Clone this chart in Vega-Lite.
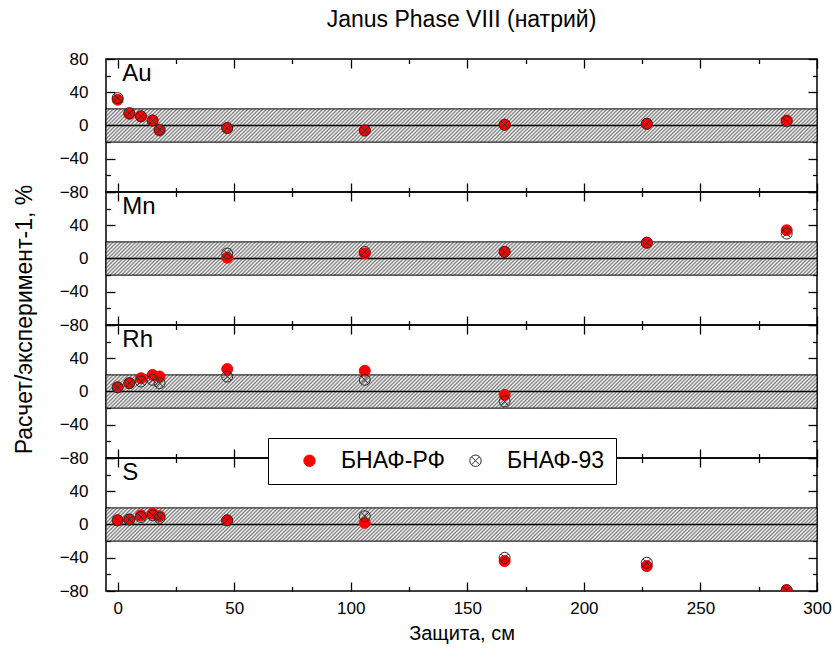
{
  "$schema": "https://vega.github.io/schema/vega-lite/v6.json",
  "padding": {"left": 12, "top": 8, "right": 5, "bottom": 5},
  "datasets": {
    "pts": [
      {"e": "Au", "s": "БНАФ-РФ", "x": 0, "v": 31},
      {"e": "Au", "s": "БНАФ-РФ", "x": 5, "v": 14},
      {"e": "Au", "s": "БНАФ-РФ", "x": 10, "v": 11},
      {"e": "Au", "s": "БНАФ-РФ", "x": 15, "v": 6},
      {"e": "Au", "s": "БНАФ-РФ", "x": 18, "v": -6},
      {"e": "Au", "s": "БНАФ-РФ", "x": 47, "v": -3},
      {"e": "Au", "s": "БНАФ-РФ", "x": 106, "v": -6},
      {"e": "Au", "s": "БНАФ-РФ", "x": 166, "v": 1},
      {"e": "Au", "s": "БНАФ-РФ", "x": 227, "v": 2},
      {"e": "Au", "s": "БНАФ-РФ", "x": 287, "v": 6},
      {"e": "Mn", "s": "БНАФ-РФ", "x": 47, "v": 1},
      {"e": "Mn", "s": "БНАФ-РФ", "x": 106, "v": 6},
      {"e": "Mn", "s": "БНАФ-РФ", "x": 166, "v": 8},
      {"e": "Mn", "s": "БНАФ-РФ", "x": 227, "v": 19},
      {"e": "Mn", "s": "БНАФ-РФ", "x": 287, "v": 34},
      {"e": "Rh", "s": "БНАФ-РФ", "x": 0, "v": 5},
      {"e": "Rh", "s": "БНАФ-РФ", "x": 5, "v": 10},
      {"e": "Rh", "s": "БНАФ-РФ", "x": 10, "v": 16},
      {"e": "Rh", "s": "БНАФ-РФ", "x": 15, "v": 20},
      {"e": "Rh", "s": "БНАФ-РФ", "x": 18, "v": 18},
      {"e": "Rh", "s": "БНАФ-РФ", "x": 47, "v": 27},
      {"e": "Rh", "s": "БНАФ-РФ", "x": 106, "v": 25},
      {"e": "Rh", "s": "БНАФ-РФ", "x": 166, "v": -4},
      {"e": "S", "s": "БНАФ-РФ", "x": 0, "v": 5},
      {"e": "S", "s": "БНАФ-РФ", "x": 5, "v": 6},
      {"e": "S", "s": "БНАФ-РФ", "x": 10, "v": 11},
      {"e": "S", "s": "БНАФ-РФ", "x": 15, "v": 13},
      {"e": "S", "s": "БНАФ-РФ", "x": 18, "v": 10},
      {"e": "S", "s": "БНАФ-РФ", "x": 47, "v": 5},
      {"e": "S", "s": "БНАФ-РФ", "x": 106, "v": 2},
      {"e": "S", "s": "БНАФ-РФ", "x": 166, "v": -44},
      {"e": "S", "s": "БНАФ-РФ", "x": 227, "v": -50},
      {"e": "S", "s": "БНАФ-РФ", "x": 287, "v": -79},
      {"e": "Au", "s": "БНАФ-93", "x": 0, "v": 33},
      {"e": "Au", "s": "БНАФ-93", "x": 5, "v": 15},
      {"e": "Au", "s": "БНАФ-93", "x": 10, "v": 11},
      {"e": "Au", "s": "БНАФ-93", "x": 15, "v": 6},
      {"e": "Au", "s": "БНАФ-93", "x": 18, "v": -5},
      {"e": "Au", "s": "БНАФ-93", "x": 47, "v": -3},
      {"e": "Au", "s": "БНАФ-93", "x": 106, "v": -6},
      {"e": "Au", "s": "БНАФ-93", "x": 166, "v": 1},
      {"e": "Au", "s": "БНАФ-93", "x": 227, "v": 2},
      {"e": "Au", "s": "БНАФ-93", "x": 287, "v": 5},
      {"e": "Mn", "s": "БНАФ-93", "x": 47, "v": 6},
      {"e": "Mn", "s": "БНАФ-93", "x": 106, "v": 8},
      {"e": "Mn", "s": "БНАФ-93", "x": 166, "v": 8},
      {"e": "Mn", "s": "БНАФ-93", "x": 227, "v": 19},
      {"e": "Mn", "s": "БНАФ-93", "x": 287, "v": 30},
      {"e": "Rh", "s": "БНАФ-93", "x": 0, "v": 5},
      {"e": "Rh", "s": "БНАФ-93", "x": 5, "v": 10},
      {"e": "Rh", "s": "БНАФ-93", "x": 10, "v": 12},
      {"e": "Rh", "s": "БНАФ-93", "x": 15, "v": 14},
      {"e": "Rh", "s": "БНАФ-93", "x": 18, "v": 10},
      {"e": "Rh", "s": "БНАФ-93", "x": 47, "v": 18},
      {"e": "Rh", "s": "БНАФ-93", "x": 106, "v": 14},
      {"e": "Rh", "s": "БНАФ-93", "x": 166, "v": -12},
      {"e": "S", "s": "БНАФ-93", "x": 0, "v": 5},
      {"e": "S", "s": "БНАФ-93", "x": 5, "v": 6},
      {"e": "S", "s": "БНАФ-93", "x": 10, "v": 9},
      {"e": "S", "s": "БНАФ-93", "x": 15, "v": 11},
      {"e": "S", "s": "БНАФ-93", "x": 18, "v": 8},
      {"e": "S", "s": "БНАФ-93", "x": 47, "v": 5},
      {"e": "S", "s": "БНАФ-93", "x": 106, "v": 10},
      {"e": "S", "s": "БНАФ-93", "x": 166, "v": -40},
      {"e": "S", "s": "БНАФ-93", "x": 227, "v": -46},
      {"e": "S", "s": "БНАФ-93", "x": 287, "v": -79}
    ],
    "band": [{"lo": -20, "hi": 20}]
  },
  "spacing": 0,
  "bounds": "flush",
  "vconcat": [
    {
      "width": 711, "height": 133,
      "title": {"text": "Janus Phase VIII (натрий)", "frame": "group", "anchor": "middle", "fontSize": 23, "fontWeight": "normal", "font": "Liberation Sans", "color": "#000", "offset": 18},
      "layer": [
        {"data": {"name": "band"}, "mark": {"type": "rect", "style": "hatch", "stroke": "#000", "strokeWidth": 1},
         "encoding": {"y": {"field": "lo", "type": "quantitative", "scale": {"domain": [-80, 80], "nice": false}, "axis": null}, "y2": {"field": "hi"}}},
        {"data": {"name": "band"}, "mark": {"type": "rule", "color": "#000", "strokeWidth": 1.5},
         "encoding": {"y": {"datum": 0, "type": "quantitative", "axis": null}}},
        {"data": {"name": "pts"}, "transform": [{"filter": "datum.e === 'Au'"}],
         "mark": {"type": "point", "size": 120, "opacity": 1, "strokeWidth": 1, "clip": true},
         "encoding": {
           "x": {"field": "x", "type": "quantitative", "scale": {"domain": [-5, 300], "nice": false, "zero": false},
                 "axis": {"orient": "bottom", "values": [0,25,50,75,100,125,150,175,200,225,250,275,300], "labels": false, "title": null, "tickSize": {"condition": {"test": "datum.value % 50 === 0", "value": -9}, "value": -4.5}}},
           "y": {"field": "v", "type": "quantitative", "scale": {"domain": [-80, 80], "nice": false},
                 "axis": {"orient": "left", "values": [-80,-60,-40,-20,0,20,40,60,80], "title": null, "labelExpr": "datum.value % 40 === 0 ? datum.label : ''", "labelPadding": 27, "tickSize": {"condition": {"test": "datum.value % 40 === 0", "value": -9}, "value": -4.5}}},
           "shape": {"field": "s", "type": "nominal", "scale": {"domain": ["БНАФ-РФ", "БНАФ-93"], "range": ["circle", "M-1,0A1,1,0,1,1,1,0A1,1,0,1,1,-1,0ZM-0.7,-0.7L0.7,0.7M-0.7,0.7L0.7,-0.7"]}},
           "fill": {"field": "s", "type": "nominal", "scale": {"domain": ["БНАФ-РФ", "БНАФ-93"], "range": ["#ff0000", "transparent"]}},
           "stroke": {"field": "s", "type": "nominal", "scale": {"domain": ["БНАФ-РФ", "БНАФ-93"], "range": ["#ff0000", "#2a2a2a"]}}
         }},
        {"data": {"values": [{"el": "Au"}]}, "mark": {"type": "text", "align": "left", "baseline": "middle", "fontSize": 24, "font": "Liberation Sans", "color": "#000"},
         "encoding": {"text": {"field": "el"},
           "x": {"datum": 2, "type": "quantitative", "axis": {"orient": "top", "values": [0,25,50,75,100,125,150,175,200,225,250,275,300], "labels": false, "title": null, "tickSize": {"condition": {"test": "datum.value % 50 === 0", "value": -9}, "value": -4.5}}},
           "y": {"datum": 62, "type": "quantitative", "axis": {"orient": "right", "values": [-80,-60,-40,-20,0,20,40,60,80], "labels": false, "title": null, "tickSize": {"condition": {"test": "datum.value % 40 === 0", "value": -9}, "value": -4.5}}}}}
      ],
      "resolve": {"axis": {"x": "independent", "y": "independent"}}
    },
    {
      "width": 711, "height": 133,
      "layer": [
        {"data": {"name": "band"}, "mark": {"type": "rect", "style": "hatch", "stroke": "#000", "strokeWidth": 1},
         "encoding": {"y": {"field": "lo", "type": "quantitative", "scale": {"domain": [-80, 80], "nice": false}, "axis": null}, "y2": {"field": "hi"}}},
        {"data": {"name": "band"}, "mark": {"type": "rule", "color": "#000", "strokeWidth": 1.5},
         "encoding": {"y": {"datum": 0, "type": "quantitative", "axis": null}}},
        {"data": {"name": "pts"}, "transform": [{"filter": "datum.e === 'Mn'"}],
         "mark": {"type": "point", "size": 120, "opacity": 1, "strokeWidth": 1, "clip": true},
         "encoding": {
           "x": {"field": "x", "type": "quantitative", "scale": {"domain": [-5, 300], "nice": false, "zero": false},
                 "axis": {"orient": "bottom", "values": [0,25,50,75,100,125,150,175,200,225,250,275,300], "labels": false, "title": null, "tickSize": {"condition": {"test": "datum.value % 50 === 0", "value": -9}, "value": -4.5}}},
           "y": {"field": "v", "type": "quantitative", "scale": {"domain": [-80, 80], "nice": false},
                 "axis": {"orient": "left", "values": [-80,-60,-40,-20,0,20,40,60,80], "title": "Расчет/эксперимент-1, %", "titleFontSize": 23, "titleX": -82, "titleY": 127, "titleBaseline": "middle", "labelExpr": "datum.value % 40 === 0 && datum.value < 80 ? datum.label : ''", "labelPadding": 27, "tickSize": {"condition": {"test": "datum.value % 40 === 0", "value": -9}, "value": -4.5}}},
           "shape": {"field": "s", "type": "nominal", "scale": {"domain": ["БНАФ-РФ", "БНАФ-93"], "range": ["circle", "M-1,0A1,1,0,1,1,1,0A1,1,0,1,1,-1,0ZM-0.7,-0.7L0.7,0.7M-0.7,0.7L0.7,-0.7"]}},
           "fill": {"field": "s", "type": "nominal", "scale": {"domain": ["БНАФ-РФ", "БНАФ-93"], "range": ["#ff0000", "transparent"]}},
           "stroke": {"field": "s", "type": "nominal", "scale": {"domain": ["БНАФ-РФ", "БНАФ-93"], "range": ["#ff0000", "#2a2a2a"]}}
         }},
        {"data": {"values": [{"el": "Mn"}]}, "mark": {"type": "text", "align": "left", "baseline": "middle", "fontSize": 24, "font": "Liberation Sans", "color": "#000"},
         "encoding": {"text": {"field": "el"},
           "x": {"datum": 2, "type": "quantitative", "axis": {"orient": "top", "values": [0,25,50,75,100,125,150,175,200,225,250,275,300], "labels": false, "title": null, "tickSize": {"condition": {"test": "datum.value % 50 === 0", "value": -9}, "value": -4.5}}},
           "y": {"datum": 62, "type": "quantitative", "axis": {"orient": "right", "values": [-80,-60,-40,-20,0,20,40,60,80], "labels": false, "title": null, "tickSize": {"condition": {"test": "datum.value % 40 === 0", "value": -9}, "value": -4.5}}}}}
      ],
      "resolve": {"axis": {"x": "independent", "y": "independent"}}
    },
    {
      "width": 711, "height": 133,
      "layer": [
        {"data": {"name": "band"}, "mark": {"type": "rect", "style": "hatch", "stroke": "#000", "strokeWidth": 1},
         "encoding": {"y": {"field": "lo", "type": "quantitative", "scale": {"domain": [-80, 80], "nice": false}, "axis": null}, "y2": {"field": "hi"}}},
        {"data": {"name": "band"}, "mark": {"type": "rule", "color": "#000", "strokeWidth": 1.5},
         "encoding": {"y": {"datum": 0, "type": "quantitative", "axis": null}}},
        {"data": {"name": "pts"}, "transform": [{"filter": "datum.e === 'Rh'"}],
         "mark": {"type": "point", "size": 120, "opacity": 1, "strokeWidth": 1, "clip": true},
         "encoding": {
           "x": {"field": "x", "type": "quantitative", "scale": {"domain": [-5, 300], "nice": false, "zero": false},
                 "axis": {"orient": "bottom", "values": [0,25,50,75,100,125,150,175,200,225,250,275,300], "labels": false, "title": null, "tickSize": {"condition": {"test": "datum.value % 50 === 0", "value": -9}, "value": -4.5}}},
           "y": {"field": "v", "type": "quantitative", "scale": {"domain": [-80, 80], "nice": false},
                 "axis": {"orient": "left", "values": [-80,-60,-40,-20,0,20,40,60,80], "title": null, "labelExpr": "datum.value % 40 === 0 && datum.value < 80 ? datum.label : ''", "labelPadding": 27, "tickSize": {"condition": {"test": "datum.value % 40 === 0", "value": -9}, "value": -4.5}}},
           "shape": {"field": "s", "type": "nominal", "scale": {"domain": ["БНАФ-РФ", "БНАФ-93"], "range": ["circle", "M-1,0A1,1,0,1,1,1,0A1,1,0,1,1,-1,0ZM-0.7,-0.7L0.7,0.7M-0.7,0.7L0.7,-0.7"]}},
           "fill": {"field": "s", "type": "nominal", "scale": {"domain": ["БНАФ-РФ", "БНАФ-93"], "range": ["#ff0000", "transparent"]}},
           "stroke": {"field": "s", "type": "nominal", "scale": {"domain": ["БНАФ-РФ", "БНАФ-93"], "range": ["#ff0000", "#2a2a2a"]}}
         }},
        {"data": {"values": [{"el": "Rh"}]}, "mark": {"type": "text", "align": "left", "baseline": "middle", "fontSize": 24, "font": "Liberation Sans", "color": "#000"},
         "encoding": {"text": {"field": "el"},
           "x": {"datum": 2, "type": "quantitative", "axis": {"orient": "top", "values": [0,25,50,75,100,125,150,175,200,225,250,275,300], "labels": false, "title": null, "tickSize": {"condition": {"test": "datum.value % 50 === 0", "value": -9}, "value": -4.5}}},
           "y": {"datum": 62, "type": "quantitative", "axis": {"orient": "right", "values": [-80,-60,-40,-20,0,20,40,60,80], "labels": false, "title": null, "tickSize": {"condition": {"test": "datum.value % 40 === 0", "value": -9}, "value": -4.5}}}}}
      ],
      "resolve": {"axis": {"x": "independent", "y": "independent"}}
    },
    {
      "width": 711, "height": 133,
      "layer": [
        {"data": {"name": "band"}, "mark": {"type": "rect", "style": "hatch", "stroke": "#000", "strokeWidth": 1},
         "encoding": {"y": {"field": "lo", "type": "quantitative", "scale": {"domain": [-80, 80], "nice": false}, "axis": null}, "y2": {"field": "hi"}}},
        {"data": {"name": "band"}, "mark": {"type": "rule", "color": "#000", "strokeWidth": 1.5},
         "encoding": {"y": {"datum": 0, "type": "quantitative", "axis": null}}},
        {"data": {"name": "pts"}, "transform": [{"filter": "datum.e === 'S'"}],
         "mark": {"type": "point", "size": 120, "opacity": 1, "strokeWidth": 1, "clip": true},
         "encoding": {
           "x": {"field": "x", "type": "quantitative", "scale": {"domain": [-5, 300], "nice": false, "zero": false},
                 "axis": {"orient": "bottom", "values": [0,25,50,75,100,125,150,175,200,225,250,275,300], "title": "Защита, см", "titleFontSize": 20, "titlePadding": 3, "labelExpr": "datum.value % 50 === 0 ? datum.label : ''", "labelPadding": 18, "tickSize": {"condition": {"test": "datum.value % 50 === 0", "value": -9}, "value": -4.5}}},
           "y": {"field": "v", "type": "quantitative", "scale": {"domain": [-80, 80], "nice": false},
                 "axis": {"orient": "left", "values": [-80,-60,-40,-20,0,20,40,60,80], "title": null, "labelExpr": "datum.value % 40 === 0 && datum.value < 80 ? datum.label : ''", "labelPadding": 27, "tickSize": {"condition": {"test": "datum.value % 40 === 0", "value": -9}, "value": -4.5}}},
           "shape": {"field": "s", "type": "nominal", "scale": {"domain": ["БНАФ-РФ", "БНАФ-93"], "range": ["circle", "M-1,0A1,1,0,1,1,1,0A1,1,0,1,1,-1,0ZM-0.7,-0.7L0.7,0.7M-0.7,0.7L0.7,-0.7"]}},
           "fill": {"field": "s", "type": "nominal", "scale": {"domain": ["БНАФ-РФ", "БНАФ-93"], "range": ["#ff0000", "transparent"]}},
           "stroke": {"field": "s", "type": "nominal", "scale": {"domain": ["БНАФ-РФ", "БНАФ-93"], "range": ["#ff0000", "#2a2a2a"]}}
         }},
        {"data": {"values": [{"el": "S"}]}, "mark": {"type": "text", "align": "left", "baseline": "middle", "fontSize": 24, "font": "Liberation Sans", "color": "#000"},
         "encoding": {"text": {"field": "el"},
           "x": {"datum": 2, "type": "quantitative", "axis": {"orient": "top", "values": [0,25,50,75,100,125,150,175,200,225,250,275,300], "labels": false, "title": null, "tickSize": {"condition": {"test": "datum.value % 50 === 0", "value": -9}, "value": -4.5}}},
           "y": {"datum": 62, "type": "quantitative", "axis": {"orient": "right", "values": [-80,-60,-40,-20,0,20,40,60,80], "labels": false, "title": null, "tickSize": {"condition": {"test": "datum.value % 40 === 0", "value": -9}, "value": -4.5}}}}}
      ],
      "resolve": {"axis": {"x": "independent", "y": "independent"}}
    }
  ],
  "config": {
    "font": "Liberation Sans",
    "view": {"stroke": "#000", "strokeWidth": 1.5},
    "axis": {"domain": false, "grid": false, "ticks": true, "tickColor": "#000", "tickWidth": 1.3, "labelFont": "Liberation Sans", "labelFontSize": 17, "labelColor": "#000", "labelFlush": false, "labelOverlap": false, "titleFont": "Liberation Sans", "titleFontSize": 21, "titleFontWeight": "normal", "titleColor": "#000"},
    "legend": {"orient": "none", "legendX": 162, "legendY": 379, "direction": "horizontal", "title": null, "labelFont": "Liberation Sans", "labelFontSize": 23, "labelColor": "#000", "symbolSize": 130, "symbolStrokeWidth": 1, "strokeColor": "#000", "fillColor": "#fff", "padding": 11, "symbolOffset": 19, "labelOffset": 20, "columnPadding": 0},
    "style": {
      "hatch": {
        "color": {"gradient": "linear", "x1": 0, "y1": 0, "x2": 1.05, "y2": 0.0491, "stops": [
{"offset":0.00,"color":"#777"},{"offset":0.0025,"color":"#fff"},{"offset":0.005,"color":"#777"},{"offset":0.0075,"color":"#fff"},
{"offset":0.01,"color":"#777"},{"offset":0.0125,"color":"#fff"},{"offset":0.015,"color":"#777"},{"offset":0.0175,"color":"#fff"},
{"offset":0.02,"color":"#777"},{"offset":0.0225,"color":"#fff"},{"offset":0.025,"color":"#777"},{"offset":0.0275,"color":"#fff"},
{"offset":0.03,"color":"#777"},{"offset":0.0325,"color":"#fff"},{"offset":0.035,"color":"#777"},{"offset":0.0375,"color":"#fff"},
{"offset":0.04,"color":"#777"},{"offset":0.0425,"color":"#fff"},{"offset":0.045,"color":"#777"},{"offset":0.0475,"color":"#fff"},
{"offset":0.05,"color":"#777"},{"offset":0.0525,"color":"#fff"},{"offset":0.055,"color":"#777"},{"offset":0.0575,"color":"#fff"},
{"offset":0.06,"color":"#777"},{"offset":0.0625,"color":"#fff"},{"offset":0.065,"color":"#777"},{"offset":0.0675,"color":"#fff"},
{"offset":0.07,"color":"#777"},{"offset":0.0725,"color":"#fff"},{"offset":0.075,"color":"#777"},{"offset":0.0775,"color":"#fff"},
{"offset":0.08,"color":"#777"},{"offset":0.0825,"color":"#fff"},{"offset":0.085,"color":"#777"},{"offset":0.0875,"color":"#fff"},
{"offset":0.09,"color":"#777"},{"offset":0.0925,"color":"#fff"},{"offset":0.095,"color":"#777"},{"offset":0.0975,"color":"#fff"},
{"offset":0.10,"color":"#777"},{"offset":0.1025,"color":"#fff"},{"offset":0.105,"color":"#777"},{"offset":0.1075,"color":"#fff"},
{"offset":0.11,"color":"#777"},{"offset":0.1125,"color":"#fff"},{"offset":0.115,"color":"#777"},{"offset":0.1175,"color":"#fff"},
{"offset":0.12,"color":"#777"},{"offset":0.1225,"color":"#fff"},{"offset":0.125,"color":"#777"},{"offset":0.1275,"color":"#fff"},
{"offset":0.13,"color":"#777"},{"offset":0.1325,"color":"#fff"},{"offset":0.135,"color":"#777"},{"offset":0.1375,"color":"#fff"},
{"offset":0.14,"color":"#777"},{"offset":0.1425,"color":"#fff"},{"offset":0.145,"color":"#777"},{"offset":0.1475,"color":"#fff"},
{"offset":0.15,"color":"#777"},{"offset":0.1525,"color":"#fff"},{"offset":0.155,"color":"#777"},{"offset":0.1575,"color":"#fff"},
{"offset":0.16,"color":"#777"},{"offset":0.1625,"color":"#fff"},{"offset":0.165,"color":"#777"},{"offset":0.1675,"color":"#fff"},
{"offset":0.17,"color":"#777"},{"offset":0.1725,"color":"#fff"},{"offset":0.175,"color":"#777"},{"offset":0.1775,"color":"#fff"},
{"offset":0.18,"color":"#777"},{"offset":0.1825,"color":"#fff"},{"offset":0.185,"color":"#777"},{"offset":0.1875,"color":"#fff"},
{"offset":0.19,"color":"#777"},{"offset":0.1925,"color":"#fff"},{"offset":0.195,"color":"#777"},{"offset":0.1975,"color":"#fff"},
{"offset":0.20,"color":"#777"},{"offset":0.2025,"color":"#fff"},{"offset":0.205,"color":"#777"},{"offset":0.2075,"color":"#fff"},
{"offset":0.21,"color":"#777"},{"offset":0.2125,"color":"#fff"},{"offset":0.215,"color":"#777"},{"offset":0.2175,"color":"#fff"},
{"offset":0.22,"color":"#777"},{"offset":0.2225,"color":"#fff"},{"offset":0.225,"color":"#777"},{"offset":0.2275,"color":"#fff"},
{"offset":0.23,"color":"#777"},{"offset":0.2325,"color":"#fff"},{"offset":0.235,"color":"#777"},{"offset":0.2375,"color":"#fff"},
{"offset":0.24,"color":"#777"},{"offset":0.2425,"color":"#fff"},{"offset":0.245,"color":"#777"},{"offset":0.2475,"color":"#fff"},
{"offset":0.25,"color":"#777"},{"offset":0.2525,"color":"#fff"},{"offset":0.255,"color":"#777"},{"offset":0.2575,"color":"#fff"},
{"offset":0.26,"color":"#777"},{"offset":0.2625,"color":"#fff"},{"offset":0.265,"color":"#777"},{"offset":0.2675,"color":"#fff"},
{"offset":0.27,"color":"#777"},{"offset":0.2725,"color":"#fff"},{"offset":0.275,"color":"#777"},{"offset":0.2775,"color":"#fff"},
{"offset":0.28,"color":"#777"},{"offset":0.2825,"color":"#fff"},{"offset":0.285,"color":"#777"},{"offset":0.2875,"color":"#fff"},
{"offset":0.29,"color":"#777"},{"offset":0.2925,"color":"#fff"},{"offset":0.295,"color":"#777"},{"offset":0.2975,"color":"#fff"},
{"offset":0.30,"color":"#777"},{"offset":0.3025,"color":"#fff"},{"offset":0.305,"color":"#777"},{"offset":0.3075,"color":"#fff"},
{"offset":0.31,"color":"#777"},{"offset":0.3125,"color":"#fff"},{"offset":0.315,"color":"#777"},{"offset":0.3175,"color":"#fff"},
{"offset":0.32,"color":"#777"},{"offset":0.3225,"color":"#fff"},{"offset":0.325,"color":"#777"},{"offset":0.3275,"color":"#fff"},
{"offset":0.33,"color":"#777"},{"offset":0.3325,"color":"#fff"},{"offset":0.335,"color":"#777"},{"offset":0.3375,"color":"#fff"},
{"offset":0.34,"color":"#777"},{"offset":0.3425,"color":"#fff"},{"offset":0.345,"color":"#777"},{"offset":0.3475,"color":"#fff"},
{"offset":0.35,"color":"#777"},{"offset":0.3525,"color":"#fff"},{"offset":0.355,"color":"#777"},{"offset":0.3575,"color":"#fff"},
{"offset":0.36,"color":"#777"},{"offset":0.3625,"color":"#fff"},{"offset":0.365,"color":"#777"},{"offset":0.3675,"color":"#fff"},
{"offset":0.37,"color":"#777"},{"offset":0.3725,"color":"#fff"},{"offset":0.375,"color":"#777"},{"offset":0.3775,"color":"#fff"},
{"offset":0.38,"color":"#777"},{"offset":0.3825,"color":"#fff"},{"offset":0.385,"color":"#777"},{"offset":0.3875,"color":"#fff"},
{"offset":0.39,"color":"#777"},{"offset":0.3925,"color":"#fff"},{"offset":0.395,"color":"#777"},{"offset":0.3975,"color":"#fff"},
{"offset":0.40,"color":"#777"},{"offset":0.4025,"color":"#fff"},{"offset":0.405,"color":"#777"},{"offset":0.4075,"color":"#fff"},
{"offset":0.41,"color":"#777"},{"offset":0.4125,"color":"#fff"},{"offset":0.415,"color":"#777"},{"offset":0.4175,"color":"#fff"},
{"offset":0.42,"color":"#777"},{"offset":0.4225,"color":"#fff"},{"offset":0.425,"color":"#777"},{"offset":0.4275,"color":"#fff"},
{"offset":0.43,"color":"#777"},{"offset":0.4325,"color":"#fff"},{"offset":0.435,"color":"#777"},{"offset":0.4375,"color":"#fff"},
{"offset":0.44,"color":"#777"},{"offset":0.4425,"color":"#fff"},{"offset":0.445,"color":"#777"},{"offset":0.4475,"color":"#fff"},
{"offset":0.45,"color":"#777"},{"offset":0.4525,"color":"#fff"},{"offset":0.455,"color":"#777"},{"offset":0.4575,"color":"#fff"},
{"offset":0.46,"color":"#777"},{"offset":0.4625,"color":"#fff"},{"offset":0.465,"color":"#777"},{"offset":0.4675,"color":"#fff"},
{"offset":0.47,"color":"#777"},{"offset":0.4725,"color":"#fff"},{"offset":0.475,"color":"#777"},{"offset":0.4775,"color":"#fff"},
{"offset":0.48,"color":"#777"},{"offset":0.4825,"color":"#fff"},{"offset":0.485,"color":"#777"},{"offset":0.4875,"color":"#fff"},
{"offset":0.49,"color":"#777"},{"offset":0.4925,"color":"#fff"},{"offset":0.495,"color":"#777"},{"offset":0.4975,"color":"#fff"},
{"offset":0.50,"color":"#777"},{"offset":0.5025,"color":"#fff"},{"offset":0.505,"color":"#777"},{"offset":0.5075,"color":"#fff"},
{"offset":0.51,"color":"#777"},{"offset":0.5125,"color":"#fff"},{"offset":0.515,"color":"#777"},{"offset":0.5175,"color":"#fff"},
{"offset":0.52,"color":"#777"},{"offset":0.5225,"color":"#fff"},{"offset":0.525,"color":"#777"},{"offset":0.5275,"color":"#fff"},
{"offset":0.53,"color":"#777"},{"offset":0.5325,"color":"#fff"},{"offset":0.535,"color":"#777"},{"offset":0.5375,"color":"#fff"},
{"offset":0.54,"color":"#777"},{"offset":0.5425,"color":"#fff"},{"offset":0.545,"color":"#777"},{"offset":0.5475,"color":"#fff"},
{"offset":0.55,"color":"#777"},{"offset":0.5525,"color":"#fff"},{"offset":0.555,"color":"#777"},{"offset":0.5575,"color":"#fff"},
{"offset":0.56,"color":"#777"},{"offset":0.5625,"color":"#fff"},{"offset":0.565,"color":"#777"},{"offset":0.5675,"color":"#fff"},
{"offset":0.57,"color":"#777"},{"offset":0.5725,"color":"#fff"},{"offset":0.575,"color":"#777"},{"offset":0.5775,"color":"#fff"},
{"offset":0.58,"color":"#777"},{"offset":0.5825,"color":"#fff"},{"offset":0.585,"color":"#777"},{"offset":0.5875,"color":"#fff"},
{"offset":0.59,"color":"#777"},{"offset":0.5925,"color":"#fff"},{"offset":0.595,"color":"#777"},{"offset":0.5975,"color":"#fff"},
{"offset":0.60,"color":"#777"},{"offset":0.6025,"color":"#fff"},{"offset":0.605,"color":"#777"},{"offset":0.6075,"color":"#fff"},
{"offset":0.61,"color":"#777"},{"offset":0.6125,"color":"#fff"},{"offset":0.615,"color":"#777"},{"offset":0.6175,"color":"#fff"},
{"offset":0.62,"color":"#777"},{"offset":0.6225,"color":"#fff"},{"offset":0.625,"color":"#777"},{"offset":0.6275,"color":"#fff"},
{"offset":0.63,"color":"#777"},{"offset":0.6325,"color":"#fff"},{"offset":0.635,"color":"#777"},{"offset":0.6375,"color":"#fff"},
{"offset":0.64,"color":"#777"},{"offset":0.6425,"color":"#fff"},{"offset":0.645,"color":"#777"},{"offset":0.6475,"color":"#fff"},
{"offset":0.65,"color":"#777"},{"offset":0.6525,"color":"#fff"},{"offset":0.655,"color":"#777"},{"offset":0.6575,"color":"#fff"},
{"offset":0.66,"color":"#777"},{"offset":0.6625,"color":"#fff"},{"offset":0.665,"color":"#777"},{"offset":0.6675,"color":"#fff"},
{"offset":0.67,"color":"#777"},{"offset":0.6725,"color":"#fff"},{"offset":0.675,"color":"#777"},{"offset":0.6775,"color":"#fff"},
{"offset":0.68,"color":"#777"},{"offset":0.6825,"color":"#fff"},{"offset":0.685,"color":"#777"},{"offset":0.6875,"color":"#fff"},
{"offset":0.69,"color":"#777"},{"offset":0.6925,"color":"#fff"},{"offset":0.695,"color":"#777"},{"offset":0.6975,"color":"#fff"},
{"offset":0.70,"color":"#777"},{"offset":0.7025,"color":"#fff"},{"offset":0.705,"color":"#777"},{"offset":0.7075,"color":"#fff"},
{"offset":0.71,"color":"#777"},{"offset":0.7125,"color":"#fff"},{"offset":0.715,"color":"#777"},{"offset":0.7175,"color":"#fff"},
{"offset":0.72,"color":"#777"},{"offset":0.7225,"color":"#fff"},{"offset":0.725,"color":"#777"},{"offset":0.7275,"color":"#fff"},
{"offset":0.73,"color":"#777"},{"offset":0.7325,"color":"#fff"},{"offset":0.735,"color":"#777"},{"offset":0.7375,"color":"#fff"},
{"offset":0.74,"color":"#777"},{"offset":0.7425,"color":"#fff"},{"offset":0.745,"color":"#777"},{"offset":0.7475,"color":"#fff"},
{"offset":0.75,"color":"#777"},{"offset":0.7525,"color":"#fff"},{"offset":0.755,"color":"#777"},{"offset":0.7575,"color":"#fff"},
{"offset":0.76,"color":"#777"},{"offset":0.7625,"color":"#fff"},{"offset":0.765,"color":"#777"},{"offset":0.7675,"color":"#fff"},
{"offset":0.77,"color":"#777"},{"offset":0.7725,"color":"#fff"},{"offset":0.775,"color":"#777"},{"offset":0.7775,"color":"#fff"},
{"offset":0.78,"color":"#777"},{"offset":0.7825,"color":"#fff"},{"offset":0.785,"color":"#777"},{"offset":0.7875,"color":"#fff"},
{"offset":0.79,"color":"#777"},{"offset":0.7925,"color":"#fff"},{"offset":0.795,"color":"#777"},{"offset":0.7975,"color":"#fff"},
{"offset":0.80,"color":"#777"},{"offset":0.8025,"color":"#fff"},{"offset":0.805,"color":"#777"},{"offset":0.8075,"color":"#fff"},
{"offset":0.81,"color":"#777"},{"offset":0.8125,"color":"#fff"},{"offset":0.815,"color":"#777"},{"offset":0.8175,"color":"#fff"},
{"offset":0.82,"color":"#777"},{"offset":0.8225,"color":"#fff"},{"offset":0.825,"color":"#777"},{"offset":0.8275,"color":"#fff"},
{"offset":0.83,"color":"#777"},{"offset":0.8325,"color":"#fff"},{"offset":0.835,"color":"#777"},{"offset":0.8375,"color":"#fff"},
{"offset":0.84,"color":"#777"},{"offset":0.8425,"color":"#fff"},{"offset":0.845,"color":"#777"},{"offset":0.8475,"color":"#fff"},
{"offset":0.85,"color":"#777"},{"offset":0.8525,"color":"#fff"},{"offset":0.855,"color":"#777"},{"offset":0.8575,"color":"#fff"},
{"offset":0.86,"color":"#777"},{"offset":0.8625,"color":"#fff"},{"offset":0.865,"color":"#777"},{"offset":0.8675,"color":"#fff"},
{"offset":0.87,"color":"#777"},{"offset":0.8725,"color":"#fff"},{"offset":0.875,"color":"#777"},{"offset":0.8775,"color":"#fff"},
{"offset":0.88,"color":"#777"},{"offset":0.8825,"color":"#fff"},{"offset":0.885,"color":"#777"},{"offset":0.8875,"color":"#fff"},
{"offset":0.89,"color":"#777"},{"offset":0.8925,"color":"#fff"},{"offset":0.895,"color":"#777"},{"offset":0.8975,"color":"#fff"},
{"offset":0.90,"color":"#777"},{"offset":0.9025,"color":"#fff"},{"offset":0.905,"color":"#777"},{"offset":0.9075,"color":"#fff"},
{"offset":0.91,"color":"#777"},{"offset":0.9125,"color":"#fff"},{"offset":0.915,"color":"#777"},{"offset":0.9175,"color":"#fff"},
{"offset":0.92,"color":"#777"},{"offset":0.9225,"color":"#fff"},{"offset":0.925,"color":"#777"},{"offset":0.9275,"color":"#fff"},
{"offset":0.93,"color":"#777"},{"offset":0.9325,"color":"#fff"},{"offset":0.935,"color":"#777"},{"offset":0.9375,"color":"#fff"},
{"offset":0.94,"color":"#777"},{"offset":0.9425,"color":"#fff"},{"offset":0.945,"color":"#777"},{"offset":0.9475,"color":"#fff"},
{"offset":0.95,"color":"#777"},{"offset":0.9525,"color":"#fff"},{"offset":0.955,"color":"#777"},{"offset":0.9575,"color":"#fff"},
{"offset":0.96,"color":"#777"},{"offset":0.9625,"color":"#fff"},{"offset":0.965,"color":"#777"},{"offset":0.9675,"color":"#fff"},
{"offset":0.97,"color":"#777"},{"offset":0.9725,"color":"#fff"},{"offset":0.975,"color":"#777"},{"offset":0.9775,"color":"#fff"},
{"offset":0.98,"color":"#777"},{"offset":0.9825,"color":"#fff"},{"offset":0.985,"color":"#777"},{"offset":0.9875,"color":"#fff"},
{"offset":0.99,"color":"#777"},{"offset":0.9925,"color":"#fff"},{"offset":0.995,"color":"#777"},{"offset":0.9975,"color":"#fff"},
{"offset":1,"color":"#777"}
        ]}
      }
    }
  }
}
